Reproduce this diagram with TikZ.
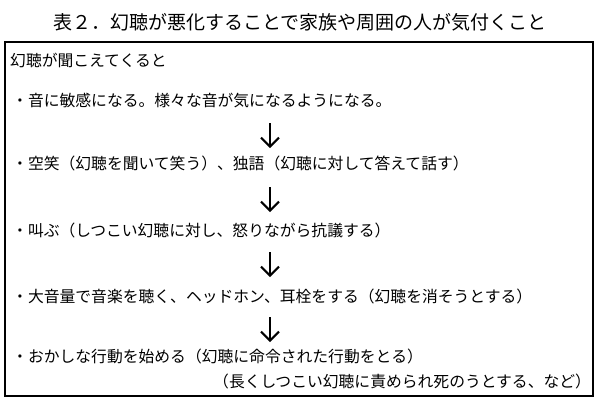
\documentclass[tikz,border=0pt]{standalone}
\usepackage{fontspec}
\setmainfont{Noto Sans CJK JP}
\usetikzlibrary{arrows.meta}
\begin{document}
\begin{tikzpicture}[x=1pt,y=-1pt,
  txt/.style={anchor=west,inner sep=0pt,font=\fontsize{15.8}{18}\selectfont},
  flow/.style={line width=2pt,-{Straight Barb[length=9pt,width=18pt,line width=2pt]}}]
\useasboundingbox (0,0) rectangle (600,400);
\node[inner sep=0pt,font=\fontsize{19}{21}\selectfont] (title) at (300,22) {表２．幻聴が悪化することで家族や周囲の人が気付くこと};
\draw[line width=1.6pt] (5,42) rectangle (593,396);
\node[txt] (h) at (10,60) {幻聴が聞こえてくると};
\node[txt] (l1) at (12,101) {・音に敏感になる。様々な音が気になるようになる。};
\node[txt] (l2) at (12,163) {・空笑（幻聴を聞いて笑う）、独語（幻聴に対して答えて話す）};
\node[txt] (l3) at (12,230) {・叫ぶ（しつこい幻聴に対し、怒りながら抗議する）};
\node[txt] (l4) at (12,296) {・大音量で音楽を聴く、ヘッドホン、耳栓をする（幻聴を消そうとする）};
\node[txt] (l5) at (12,356) {・おかしな行動を始める（幻聴に命令された行動をとる）};
\node[txt] (l6) at (213,381) {（長くしつこい幻聴に責められ死のうとする、など）};
\coordinate (a1) at (270,123); \coordinate (b1) at (270,148);
\coordinate (a2) at (270,187); \coordinate (b2) at (270,212);
\coordinate (a3) at (270,252); \coordinate (b3) at (270,277);
\coordinate (a4) at (270,317); \coordinate (b4) at (270,342);
\draw[flow] (a1) -- (b1);
\draw[flow] (a2) -- (b2);
\draw[flow] (a3) -- (b3);
\draw[flow] (a4) -- (b4);
\end{tikzpicture}
\end{document}
